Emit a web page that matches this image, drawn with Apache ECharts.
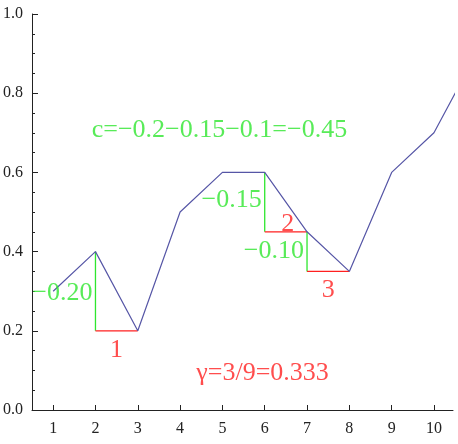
<!DOCTYPE html>
<html><head><meta charset="utf-8">
<script src="https://cdn.jsdelivr.net/npm/echarts@6/dist/echarts.min.js"></script>
<style>html,body{margin:0;padding:0;background:#fff}#c{width:458px;height:444px}</style>
</head><body><div id="c"></div>
<script>
const xs = [1, 2, 3, 4, 5, 6, 7, 8, 9, 10, 11];
const ys = [0.3, 0.4, 0.2, 0.5, 0.6, 0.6, 0.45, 0.35, 0.6, 0.7, 0.9];
const xTicks = [1, 2, 3, 4, 5, 6, 7, 8, 9, 10];
const dropIdx = [1, 5, 6];
const dropLabels = ['\u22120.20', '\u22120.15', '\u22120.10'];
const countLabels = ['1', '2', '3'];
const sumText = 'c=\u22120.2\u22120.15\u22120.1=\u22120.45';
const sumPos = [4.93, 0.707];
const gammaText = '\u03b3=3/9=0.333';
const gammaPos = [5.95, 0.093];

const GREEN = '#2ee62e', RED = '#ff2020', LINE = '#5656a6';
const FONT = 'Liberation Serif';

const series = [];
series.push({
  type: 'line', data: xs.map((x, i) => [x, ys[i]]), symbol: 'none',
  lineStyle: { color: LINE, width: 1.2 }, clip: true, z: 3
});
dropIdx.forEach((i, k) => {
  series.push({ type: 'line', symbol: 'none', z: 2, lineStyle: { color: GREEN, width: 1.3 },
    data: [[xs[i], ys[i]], [xs[i], ys[i + 1]]] });
  series.push({ type: 'line', symbol: 'none', z: 2, lineStyle: { color: RED, width: 1.3 },
    data: [[xs[i], ys[i + 1]], [xs[i + 1], ys[i + 1]]] });
});
series.push({
  type: 'scatter', symbolSize: 0, z: 5,
  data: dropIdx.map((i, k) => ({ value: [xs[i], (ys[i] + ys[i + 1]) / 2 - (k === 0 ? 0.005 : 0) + (k === 1 ? 0.005 : 0)], name: dropLabels[k] })),
  label: { show: true, position: 'left', distance: 3, formatter: p => p.name,
    color: GREEN, fontFamily: FONT, fontSize: 26, textBorderWidth: 0 }
});
series.push({
  type: 'scatter', symbolSize: 0, z: 5,
  data: dropIdx.map((i, k) => ({ value: [(xs[i] + xs[i + 1]) / 2, ys[i + 1]], name: countLabels[k],
    label: k === 1 ? { position: 'top', distance: 0, offset: [2, 5] } : { position: 'bottom', distance: 6 } })),
  label: { show: true, formatter: p => p.name, color: RED, fontFamily: FONT, fontSize: 26, textBorderWidth: 0 }
});
series.push({
  type: 'scatter', symbolSize: 0, z: 5,
  data: [{ value: sumPos, name: sumText, label: { color: GREEN } },
         { value: gammaPos, name: gammaText, label: { color: RED } }],
  label: { show: true, position: 'inside', formatter: p => p.name, fontFamily: FONT, fontSize: 26, textBorderWidth: 0 }
});

const chart = echarts.init(document.getElementById('c'));
chart.setOption({
  animation: false,
  grid: { left: 30, right: 5, top: 14, bottom: 34, containLabel: false },
  xAxis: {
    type: 'value', min: 0.5, max: 10.45,
    splitLine: { show: false },
    axisTick: { show: true, inside: true, length: 5, lineStyle: { color: '#222' }, customValues: xTicks },
    axisLabel: { color: '#222', fontFamily: FONT, fontSize: 16, customValues: xTicks, margin: 11 },
    axisLine: { show: true, onZero: false, lineStyle: { color: '#222' } }
  },
  yAxis: {
    type: 'value', min: 0, max: 1, interval: 0.2,
    splitLine: { show: false },
    axisTick: { show: true, inside: true, length: 6, lineStyle: { color: '#222' } },
    minorTick: { show: true, splitNumber: 4, length: 3, lineStyle: { color: '#222' } },
    axisLabel: { color: '#222', fontFamily: FONT, fontSize: 16, margin: 9, formatter: v => v.toFixed(1) },
    axisLine: { show: true, onZero: false, lineStyle: { color: '#222' } }
  },
  series: series
});
</script></body></html>
